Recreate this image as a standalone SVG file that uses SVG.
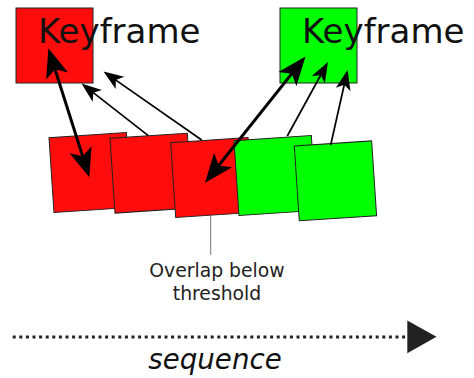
<svg xmlns="http://www.w3.org/2000/svg" width="474" height="378" viewBox="0 0 474 378">
  <style>
    .red { fill: #ff0d0d; stroke: #222; stroke-width: 1; }
    .green { fill: #00ff00; stroke: #222; stroke-width: 1; }
    .kf { font-family: "DejaVu Sans", sans-serif; font-size: 34px; fill: #111; }
    .thick { stroke: #000; stroke-width: 3; fill: none; }
    .thin { stroke: #000; stroke-width: 1.7; fill: none; }
    .label { font-family: "DejaVu Sans", sans-serif; font-size: 18.8px; fill: #222; text-anchor: middle; }
  </style>
  <defs>
    <marker id="bigHead" markerUnits="userSpaceOnUse" orient="auto-start-reverse" refX="0" refY="0" markerWidth="60" markerHeight="60" overflow="visible">
      <path d="M12,0 L-17,-11.5 L-10,0 L-17,11.5 Z" fill="#000"/>
    </marker>
    <marker id="smallHead" markerUnits="userSpaceOnUse" orient="auto" refX="0" refY="0" markerWidth="40" markerHeight="40" overflow="visible">
      <path d="M8,0 L-12,-7.5 L-7,0 L-12,7.5 Z" fill="#000"/>
    </marker>
  </defs>

  <g id="frame1"><rect class="red" x="0" y="0" width="77.5" height="75" transform="translate(49,137.7) rotate(-3.8)"/></g>
  <g id="frame2"><rect class="red" x="0" y="0" width="77.5" height="75" transform="translate(110,138.3) rotate(-3.8)"/></g>
  <g id="frame3"><rect class="red" x="0" y="0" width="77.5" height="75" transform="translate(170.7,142.7) rotate(-3.8)"/></g>
  <g id="frame4"><rect class="green" x="0" y="0" width="77.5" height="75" transform="translate(234,140.7) rotate(-3.8)"/></g>
  <g id="frame5"><rect class="green" x="0" y="0" width="77.5" height="75" transform="translate(294.3,146) rotate(-3.8)"/></g>

  <g id="keyframe-left">
    <rect class="red" x="16" y="8" width="77" height="75"/>
    <text class="kf" x="38" y="43">Keyframe</text>
  </g>
  <g id="keyframe-right">
    <rect class="green" x="280" y="8" width="77" height="75"/>
    <text class="kf" x="302" y="43">Keyframe</text>
  </g>

  <g id="connectors">
    <line class="thick" x1="52" y1="59.7" x2="85.7" y2="165.9" marker-start="url(#bigHead)" marker-end="url(#bigHead)"/>
    <line class="thick" x1="212.5" y1="173.3" x2="298" y2="65.9" marker-start="url(#bigHead)" marker-end="url(#bigHead)"/>
    <line class="thin" x1="148.3" y1="135.7" x2="87.8" y2="88.4" marker-end="url(#smallHead)"/>
    <line class="thin" x1="201.7" y1="140" x2="110.1" y2="76.1" marker-end="url(#smallHead)"/>
    <line class="thin" x1="287.3" y1="136" x2="324.1" y2="69" marker-end="url(#smallHead)"/>
    <line class="thin" x1="330.7" y1="145" x2="345.8" y2="77.8" marker-end="url(#smallHead)"/>
    <line x1="210.7" y1="216" x2="210.7" y2="255" stroke="#777" stroke-width="1"/>
  </g>

  <g id="overlap-label">
    <text class="label" x="217" y="276.7">Overlap below</text>
    <text class="label" x="217" y="300">threshold</text>
  </g>

  <g id="sequence-axis">
    <line x1="12.7" y1="337" x2="407" y2="337" stroke="#222" stroke-width="3" stroke-dasharray="3,3.6"/>
    <polygon points="407.3,320.5 436.5,336.8 407.3,353.3" fill="#222"/>
    <text x="215" y="369.2" font-family="DejaVu Sans, sans-serif" font-size="27.7" font-style="italic" fill="#111" text-anchor="middle">sequence</text>
  </g>
</svg>
